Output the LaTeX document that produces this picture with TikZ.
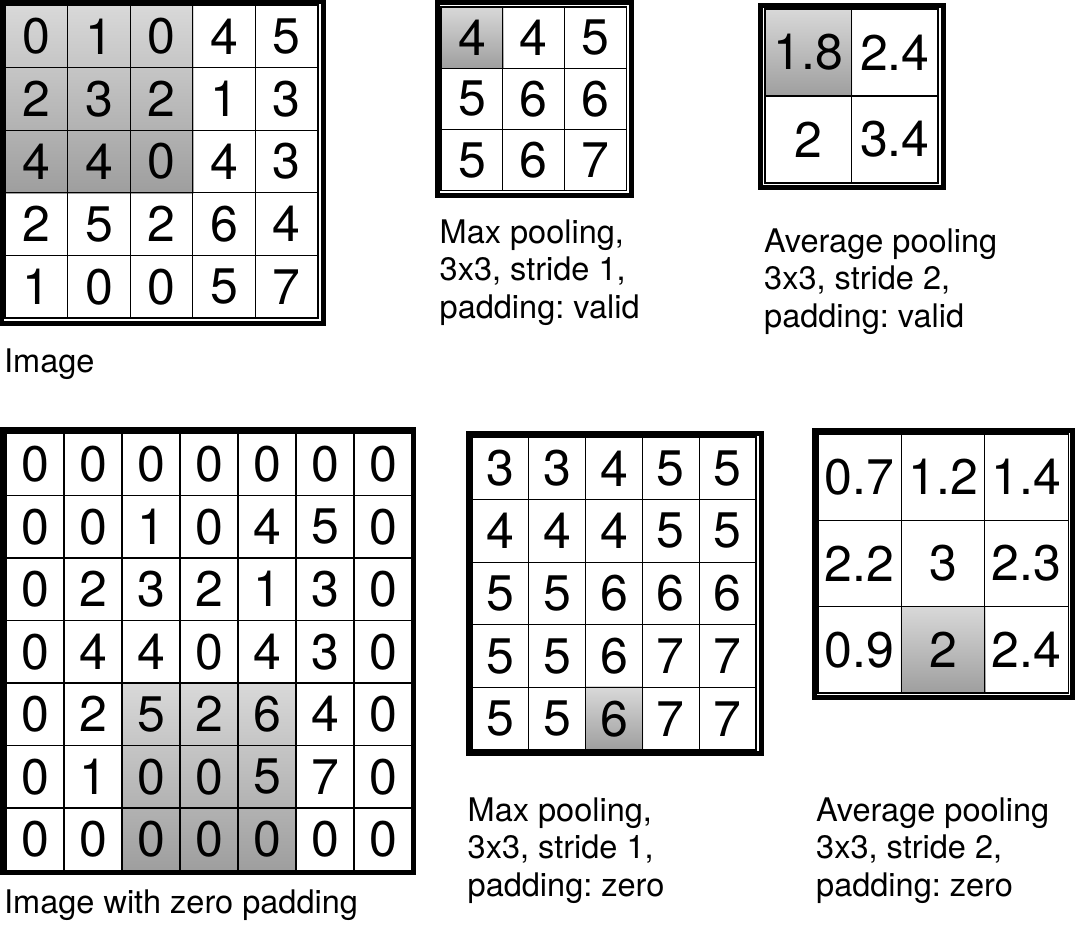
\documentclass[tikz,border=0pt]{standalone}
\usepackage{fontspec}
\setmainfont{TeX Gyre Heros}
\frenchspacing
\usetikzlibrary{backgrounds}

\tikzset{
    cell/.style={draw, line width=1.2pt, inner sep=0pt, font=\fontsize{50}{50}\selectfont},
    frame/.style={line width=5pt},
    hilite/.style={top color=black!15, bottom color=black!38},
    caption/.style={anchor=base west, align=left, inner sep=0pt, font=\fontsize{32.5}{37.5}\selectfont}
}

\begin{document}
\begin{tikzpicture}[x=1pt, y=-1pt]
    \useasboundingbox (0,0) rectangle (1075,941);

    % input image
    \foreach \row [count=\i] in {{0,1,0,4,5},{2,3,2,1,3},{4,4,0,4,3},{2,5,2,6,4},{1,0,0,5,7}}
        \foreach \v [count=\j] in \row
            \node[cell, minimum width=62.6, minimum height=62.6] (img-\i-\j)
                at ({5+(\j-0.5)*62.6}, {5+(\i-0.5)*62.6}) {\v};
    \draw[frame] ([shift={(-2.5,-2.5)}]img-1-1.north west) rectangle ([shift={(4.5,4.5)}]img-5-5.south east);
    \node[caption] (img-cap) at (4,372) {Image};

    % max pooling, valid
    \foreach \row [count=\i] in {{4,4,5},{5,6,6},{5,6,7}}
        \foreach \v [count=\j] in \row
            \node[cell, minimum width=61.8, minimum height=61.3] (maxv-\i-\j)
                at ({441+(\j-0.5)*61.8}, {7+(\i-0.5)*61.3}) {\v};
    \draw[frame] ([shift={(-3,-3.5)}]maxv-1-1.north west) rectangle ([shift={(4,4.5)}]maxv-3-3.south east);
    \node[caption] (maxv-cap) at (439.5,318) {Max pooling,\\3x3, stride 1,\\padding: valid};

    % average pooling, valid
    \foreach \row [count=\i] in {{1.8,2.4},{2,3.4}}
        \foreach \v [count=\j] in \row
            \node[cell, minimum width=86.5, minimum height=87] (avgv-\i-\j)
                at ({765+(\j-0.5)*86.5}, {9+(\i-0.5)*87}) {\v};
    \draw[frame] ([shift={(-3.5,-3)}]avgv-1-1.north west) rectangle ([shift={(4.5,3.5)}]avgv-2-2.south east);
    \node[caption] (avgv-cap) at (764,327) {Average pooling\\3x3, stride 2,\\padding: valid};

    % image with zero padding
    \foreach \row [count=\i] in {{0,0,0,0,0,0,0},{0,0,1,0,4,5,0},{0,2,3,2,1,3,0},{0,4,4,0,4,3,0},
                                 {0,2,5,2,6,4,0},{0,1,0,0,5,7,0},{0,0,0,0,0,0,0}}
        \foreach \v [count=\j] in \row
            \node[cell, minimum width=58, minimum height=62.5] (pad-\i-\j)
                at ({6+(\j-0.5)*58}, {433+(\i-0.5)*62.5}) {\v};
    \draw[frame] ([shift={(-2.5,-2.5)}]pad-1-1.north west) rectangle ([shift={(1,1)}]pad-7-7.south east);
    \node[caption] (pad-cap) at (4,913) {Image with zero padding};

    % max pooling, zero padding
    \foreach \row [count=\i] in {{3,3,4,5,5},{4,4,4,5,5},{5,5,6,6,6},{5,5,6,7,7},{5,5,6,7,7}}
        \foreach \v [count=\j] in \row
            \node[cell, minimum width=56.8, minimum height=62.6] (maxz-\i-\j)
                at ({472+(\j-0.5)*56.8}, {437+(\i-0.5)*62.6}) {\v};
    \draw[frame] ([shift={(-3,-2.5)}]maxz-1-1.north west) rectangle ([shift={(4.5,3)}]maxz-5-5.south east);
    \node[caption] (maxz-cap) at (467.5,896) {Max pooling,\\3x3, stride 1,\\padding: zero};

    % average pooling, zero padding
    \foreach \row [count=\i] in {{0.7,1.2,1.4},{2.2,3,2.3},{0.9,2,2.4}}
        \foreach \v [count=\j] in \row
            \node[cell, minimum width=83.4, minimum height=86.3] (avgz-\i-\j)
                at ({818+(\j-0.5)*83.4}, {434+(\i-0.5)*86.3}) {\v};
    \draw[frame] ([shift={(-2.5,-3)}]avgz-1-1.north west) rectangle ([shift={(3.3,3.6)}]avgz-3-3.south east);
    \node[caption] (avgz-cap) at (816,896) {Average pooling\\3x3, stride 2,\\padding: zero};

    % pooling windows
    \begin{scope}[on background layer]
        \fill[hilite] (img-1-1.north west) rectangle (img-3-3.south east);
        \fill[hilite] (maxv-1-1.north west) rectangle (maxv-1-1.south east);
        \fill[hilite] (avgv-1-1.north west) rectangle (avgv-1-1.south east);
        \fill[hilite] (pad-5-3.north west) rectangle (pad-7-5.south east);
        \fill[hilite] (maxz-5-3.north west) rectangle (maxz-5-3.south east);
        \fill[hilite] (avgz-3-2.north west) rectangle (avgz-3-2.south east);
    \end{scope}
\end{tikzpicture}
\end{document}
